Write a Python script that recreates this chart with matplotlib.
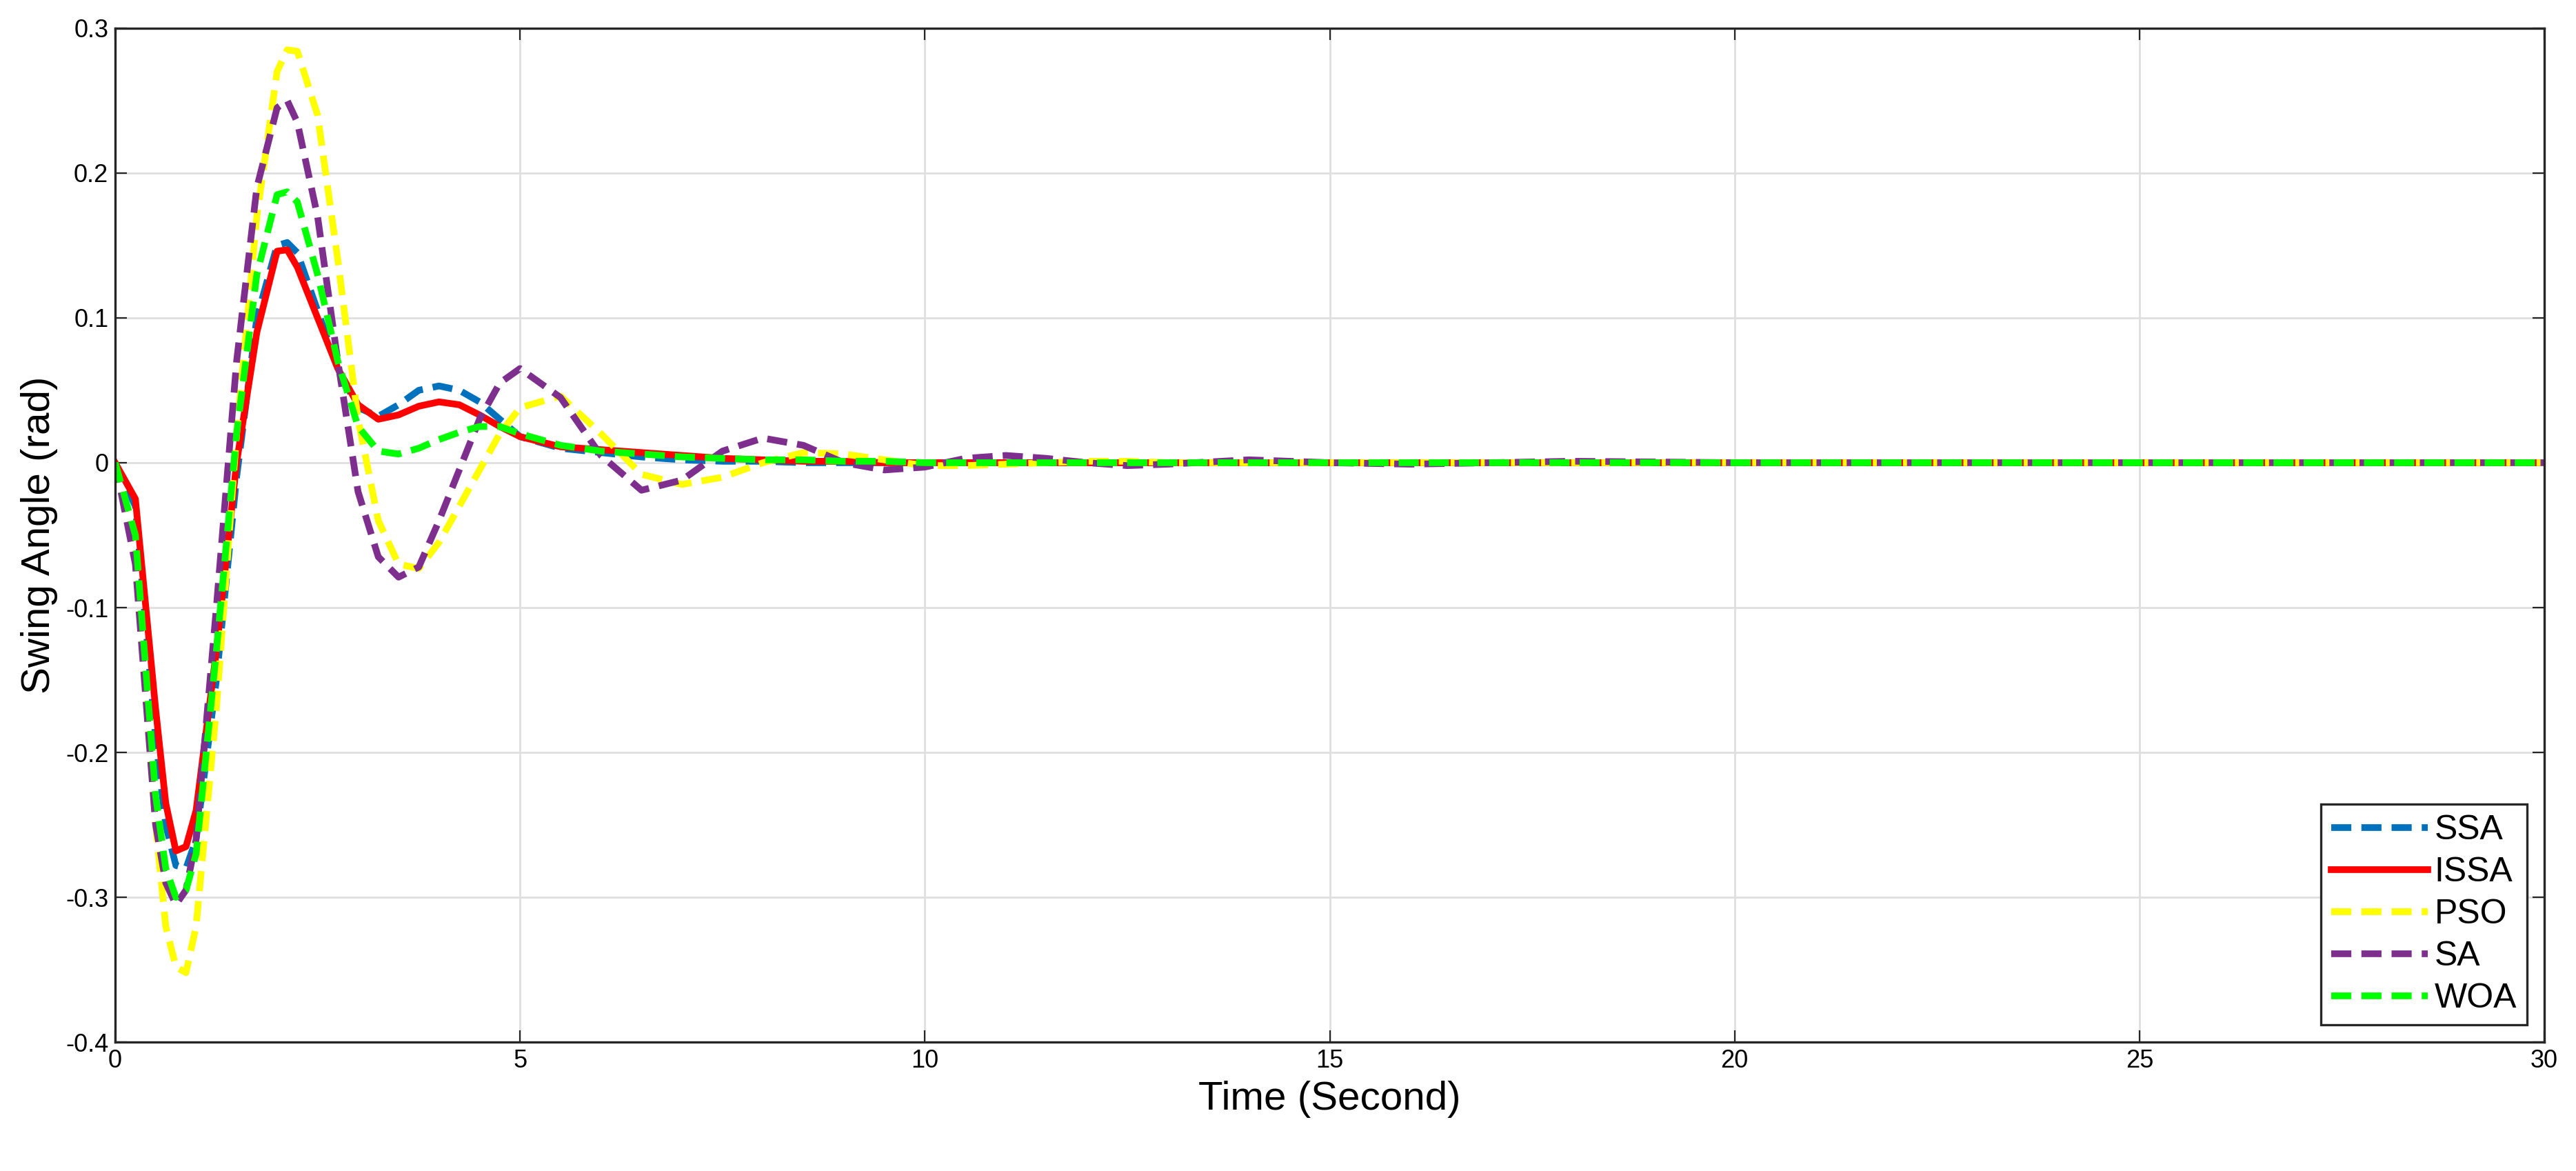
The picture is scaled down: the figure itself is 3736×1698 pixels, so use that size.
import matplotlib
matplotlib.use("Agg")
import matplotlib.pyplot as plt

t = [0, 0.25, 0.5, 0.625, 0.75, 0.875, 1.0, 1.25, 1.5, 1.75, 2.0, 2.125, 2.25, 2.5, 2.75, 3.0, 3.25, 3.5, 3.75, 4.0, 4.25, 4.5, 4.75, 5.0,
     5.5, 6, 6.5, 7, 7.5, 8, 8.5, 9, 9.5, 10,
     10.5, 11, 11.5, 12, 12.5, 13, 14, 15, 16, 18, 20, 25, 30]

ssa = [0, -0.03, -0.19, -0.25, -0.278, -0.28, -0.26, -0.15, -0.01, 0.10, 0.15, 0.152, 0.145, 0.105, 0.065, 0.038, 0.032, 0.04, 0.05, 0.053, 0.05, 0.042, 0.03, 0.018,
       0.01, 0.007, 0.004, 0.002, 0.001, 0.001, 0, 0, 0, 0,
       0, 0, 0, 0, 0, 0, 0, 0, 0, 0, 0, 0, 0]
issa = [0, -0.025, -0.17, -0.235, -0.268, -0.265, -0.24, -0.13, 0.0, 0.09, 0.146, 0.147, 0.135, 0.1, 0.065, 0.04, 0.03, 0.033, 0.039, 0.042, 0.04, 0.033, 0.025, 0.018,
        0.011, 0.009, 0.007, 0.005, 0.003, 0.002, 0.001, 0.001, 0, 0,
        0, 0, 0, 0, 0, 0, 0, 0, 0, 0, 0, 0, 0]
pso = [0, -0.06, -0.25, -0.32, -0.348, -0.352, -0.32, -0.17, 0.02, 0.17, 0.27, 0.285, 0.284, 0.24, 0.14, 0.03, -0.04, -0.07, -0.073, -0.055, -0.03, -0.005, 0.02, 0.038,
       0.046, 0.02, -0.008, -0.015, -0.01, 0.0, 0.007, 0.006, 0.002, -0.002,
       -0.002, -0.001, 0, 0.001, 0.001, 0, 0, 0, 0, 0, 0, 0, 0]
sa = [0, -0.07, -0.25, -0.29, -0.305, -0.295, -0.26, -0.1, 0.07, 0.19, 0.245, 0.25, 0.235, 0.17, 0.07, -0.02, -0.065, -0.079, -0.072, -0.04, -0.005, 0.03, 0.055, 0.065,
      0.045, 0.005, -0.019, -0.012, 0.008, 0.017, 0.012, 0.0, -0.005, -0.003,
      0.003, 0.005, 0.003, 0, -0.002, -0.001, 0.002, 0, -0.001, 0.001, 0, 0, 0]
woa = [0, -0.05, -0.23, -0.28, -0.30, -0.295, -0.27, -0.13, 0.02, 0.13, 0.185, 0.187, 0.18, 0.13, 0.07, 0.025, 0.008, 0.006, 0.01, 0.016, 0.021, 0.025, 0.025, 0.02,
       0.012, 0.008, 0.006, 0.004, 0.003, 0.002, 0.002, 0.001, 0.001, 0,
       0, 0, 0, 0, 0, 0, 0, 0, 0, 0, 0, 0, 0]

names = ["SSA", "ISSA", "PSO", "SA", "WOA"]
series = [ssa, issa, pso, sa, woa]
colors = ["#0072BD", "#FF0000", "#FFFF00", "#7E2F8E", "#00FF00"]
styles = ["--", "-", "--", "--", "--"]

plt.rcParams['font.family'] = ['Liberation Sans', 'DejaVu Sans']
fig = plt.figure(figsize=(18.68, 8.49), dpi=200)
ax = fig.add_axes([0.0447, 0.110, 0.943, 0.866])
for y, n, c, s in zip(series, names, colors, styles):
    ax.plot(t, y, s, color=c, lw=3.5, label=n, dashes=(3, 1.5) if s == "--" else (None, None))

ax.set_xlim(0, 30)
ax.set_ylim(-0.4, 0.3)
ax.set_xticks(range(0, 31, 5))
ax.set_yticks([-0.4, -0.3, -0.2, -0.1, 0, 0.1, 0.2, 0.3])
ax.set_yticklabels(["-0.4", "-0.3", "-0.2", "-0.1", "0", "0.1", "0.2", "0.3"])
ax.grid(True, color="#DFDFDF", lw=1.0)
ax.tick_params(direction="in", top=True, right=True, labelsize=13, length=6, color="#262626")
for sp in ax.spines.values():
    sp.set_color("#262626")
    sp.set_linewidth(1.2)
ax.set_xlabel("Time (Second)", fontsize=21)
ax.set_ylabel("Swing Angle (rad)", fontsize=21)
leg = ax.legend(loc="lower right", fontsize=18, fancybox=False, framealpha=1,
                edgecolor="#262626", handlelength=2.8, handletextpad=0.2,
                borderpad=0.3, labelspacing=0.3, borderaxespad=0.5)
leg.get_frame().set_linewidth(1.2)
fig.savefig("out.png", dpi=200)
